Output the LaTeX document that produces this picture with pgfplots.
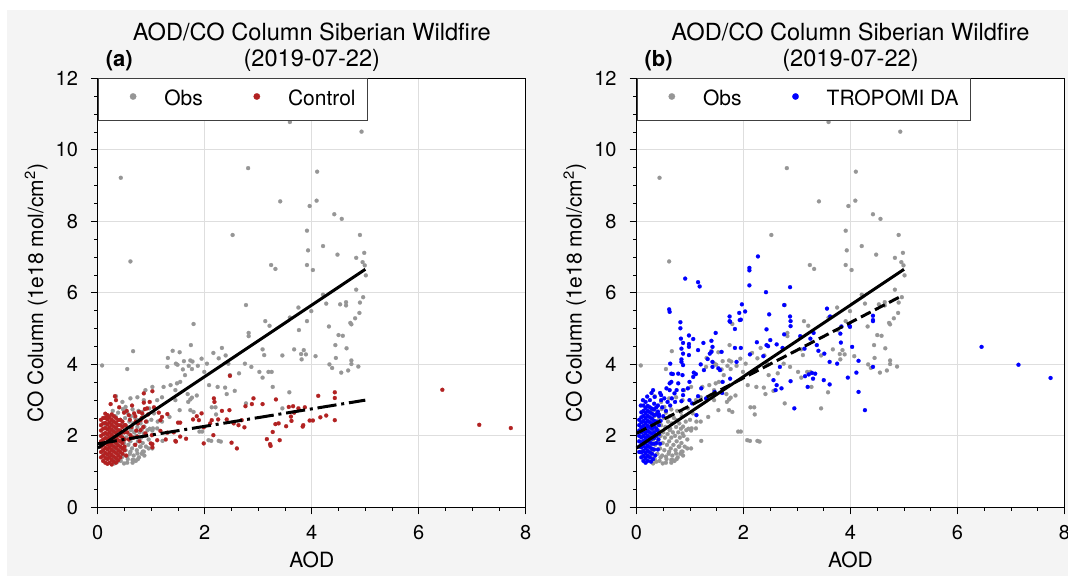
\documentclass[border=0pt]{standalone}
\usepackage{fontspec}
\setmainfont{TeX Gyre Heros}
\usepackage{pgfplots}
\usepackage{pgfplotstable}
\pgfplotsset{compat=1.18}
\definecolor{obsgray}{RGB}{150,150,150}
\definecolor{ctlred}{RGB}{178,34,34}
\definecolor{dablue}{RGB}{0,0,255}
\definecolor{bggray}{RGB}{244,244,244}
\definecolor{gridgray}{RGB}{222,222,222}

\pgfplotstableread{
x y
4.93 10.51
0.43 9.22
2.81 9.49
4.10 9.39
3.41 8.56
4.09 8.58
3.96 8.43
4.42 8.20
4.56 8.07
2.52 7.62
3.91 7.74
4.90 7.62
3.93 7.19
4.21 7.31
4.98 7.12
4.48 7.07
4.83 6.98
0.61 6.88
4.95 6.86
4.99 6.77
3.24 6.78
3.32 6.67
3.91 6.78
4.02 6.64
5.01 6.49
4.83 6.09
4.96 5.88
4.21 5.95
4.27 5.70
4.53 5.68
4.64 5.74
4.64 5.65
4.90 5.73
4.89 5.44
4.81 5.29
4.72 5.16
4.74 5.12
3.75 5.59
3.99 5.49
3.91 5.21
4.32 5.06
2.77 5.66
1.79 5.13
3.13 5.21
3.21 5.08
3.59 5.31
3.76 4.96
3.59 10.78
3.06 11.90
2.82 4.88
2.82 4.79
4.50 4.82
4.58 4.80
4.44 4.54
4.65 4.45
4.45 4.18
4.74 4.11
4.74 4.01
4.87 3.94
4.33 4.00
4.38 3.90
4.55 3.77
4.68 3.83
3.81 4.14
3.85 4.40
3.89 4.28
3.80 4.29
3.67 4.42
4.07 4.23
3.45 4.25
3.08 4.42
2.16 4.32
2.32 4.46
2.39 4.25
1.74 4.54
0.66 4.37
0.55 3.87
0.08 3.97
1.31 4.18
1.53 4.34
1.40 4.38
1.46 4.02
1.30 3.93
1.49 3.99
1.61 4.09
1.73 4.11
1.77 4.08
1.70 3.96
1.87 3.96
1.59 3.86
1.76 3.87
1.94 4.16
2.04 4.02
1.99 3.79
2.08 3.42
2.26 4.17
2.44 4.02
2.47 3.70
2.24 3.37
2.38 3.35
2.41 3.17
2.56 3.26
2.64 3.75
2.75 4.02
2.87 3.93
3.02 3.79
3.08 3.63
3.19 3.79
3.25 3.79
3.27 3.37
3.58 3.22
3.11 4.26
2.77 2.91
3.45 2.77
1.53 2.72
1.73 2.72
1.76 3.07
1.85 3.13
1.69 2.95
1.79 2.67
1.95 2.12
2.12 1.86
2.30 1.84
2.13 2.80
2.20 2.80
2.21 2.60
1.34 2.53
1.20 2.40
1.11 2.21
1.02 2.15
1.20 3.08
1.23 3.37
1.36 3.42
1.45 3.28
1.48 3.47
1.54 3.51
1.63 3.70
1.68 3.17
1.73 3.02
1.45 3.00
1.02 3.37
0.86 3.00
0.74 3.08
0.61 3.05
0.46 2.95
0.34 3.11
0.52 2.81
0.65 2.74
0.83 2.67
0.96 2.77
1.05 2.63
1.11 3.00
0.89 3.28
0.61 1.56
0.68 1.32
0.49 1.23
0.37 1.28
0.74 1.51
0.80 1.70
0.86 2.07
1.02 1.65
0.86 1.56
0.55 1.42
0.30 1.37
0.93 2.16
1.03 2.21
1.12 2.40
0.84 1.56
0.95 1.65
1.21 1.86
0.87 2.26
0.75 2.44
0.62 2.16
0.65 1.33
0.31 1.23
1.90 2.12
2.07 1.88
2.26 1.86
0.10 1.55
0.12 1.80
0.14 2.05
0.15 2.30
0.16 1.40
0.18 1.65
0.20 1.95
0.20 2.55
0.22 2.20
0.24 1.45
0.25 1.75
0.26 2.05
0.27 2.40
0.28 2.70
0.30 1.60
0.31 1.90
0.32 2.15
0.33 2.55
0.34 1.35
0.35 1.75
0.36 2.30
0.37 2.00
0.38 2.65
0.39 1.50
0.40 1.85
0.41 2.15
0.42 2.45
0.43 1.30
0.44 1.65
0.45 2.00
0.46 2.30
0.47 2.75
0.48 1.45
0.49 1.80
0.50 2.10
0.51 2.50
0.52 1.60
0.53 1.95
0.54 2.25
0.55 2.65
0.56 1.35
0.57 1.75
0.58 2.05
0.59 2.40
0.60 1.50
0.61 1.85
0.62 2.55
0.63 2.20
0.64 1.65
0.65 1.95
0.66 2.35
0.67 1.45
0.68 2.10
0.69 1.75
0.70 2.50
0.71 1.30
0.72 2.00
0.73 1.60
0.74 2.25
0.75 1.85
0.76 2.70
0.77 1.40
0.78 2.10
0.79 1.70
0.80 2.35
0.81 1.95
0.82 1.50
0.83 2.20
0.84 1.80
0.85 2.55
0.87 1.45
0.88 2.00
0.90 1.70
0.92 2.40
0.95 1.90
0.97 2.20
1.00 2.45
0.55 1.25
0.45 1.40
0.65 1.25
0.75 1.35
}\obsdata

\pgfplotstableread{
x y
6.44 3.29
7.13 2.31
7.72 2.22
2.47 3.68
2.17 3.05
2.18 2.95
2.91 3.05
2.88 2.89
2.76 2.83
3.08 2.89
3.33 3.02
3.57 2.81
3.65 2.83
3.75 2.77
3.87 2.80
4.12 3.12
4.43 3.22
4.43 3.06
4.27 2.57
4.16 2.52
4.02 2.43
3.96 2.43
3.84 2.30
3.83 2.26
3.62 2.42
3.52 2.27
3.38 2.35
3.32 2.33
3.27 2.11
3.40 1.88
3.16 1.91
3.22 1.77
3.23 1.72
4.43 2.44
3.67 2.65
3.61 2.54
2.60 1.65
2.50 1.81
2.74 2.24
2.63 2.30
2.69 2.44
2.54 2.35
2.41 2.46
2.32 2.70
2.46 2.72
2.25 2.46
2.13 2.44
2.10 2.35
2.16 2.02
1.98 1.79
1.98 2.24
1.89 2.44
1.85 2.55
1.94 2.63
1.78 2.46
1.65 1.92
1.54 1.98
1.46 1.84
1.45 1.86
1.50 2.37
1.54 2.37
1.42 2.10
1.30 2.09
1.27 1.90
1.17 2.14
1.11 1.88
1.02 1.77
1.01 2.02
1.17 2.44
1.20 2.53
1.30 2.61
1.14 2.65
1.05 2.80
1.02 3.25
0.86 3.19
0.86 2.93
0.92 2.77
0.83 2.63
0.77 2.67
0.68 2.63
0.58 2.58
0.49 2.65
0.32 3.11
0.34 3.00
0.24 2.89
0.40 2.80
0.80 2.44
0.71 2.40
0.80 2.16
0.89 2.07
0.99 1.79
1.02 1.68
0.74 1.98
0.61 2.02
0.52 2.30
0.55 2.10
0.58 1.90
0.60 2.45
0.63 2.25
0.66 1.95
0.70 2.55
0.72 2.15
0.75 2.35
0.78 1.85
0.82 2.50
0.85 2.25
0.88 2.75
0.90 2.40
0.94 2.60
0.97 2.95
0.54 2.70
0.64 2.85
0.70 1.75
0.50 1.60
0.53 1.45
0.06 1.40
0.06 1.55
0.06 1.70
0.06 1.85
0.06 2.00
0.06 2.15
0.06 2.30
0.06 2.45
0.10 1.30
0.10 1.45
0.10 1.60
0.10 1.75
0.10 1.90
0.10 2.05
0.10 2.20
0.10 2.35
0.10 2.50
0.14 1.25
0.14 1.38
0.14 1.52
0.14 1.66
0.14 1.80
0.14 1.94
0.14 2.08
0.14 2.22
0.14 2.36
0.14 2.50
0.14 2.62
0.18 1.22
0.18 1.35
0.18 1.48
0.18 1.62
0.18 1.76
0.18 1.90
0.18 2.04
0.18 2.18
0.18 2.32
0.18 2.46
0.18 2.58
0.22 1.25
0.22 1.40
0.22 1.54
0.22 1.68
0.22 1.82
0.22 1.96
0.22 2.10
0.22 2.24
0.22 2.38
0.22 2.52
0.26 1.20
0.26 1.33
0.26 1.47
0.26 1.61
0.26 1.75
0.26 1.89
0.26 2.03
0.26 2.17
0.26 2.31
0.26 2.45
0.26 2.60
0.30 1.28
0.30 1.42
0.30 1.56
0.30 1.70
0.30 1.84
0.30 1.98
0.30 2.12
0.30 2.26
0.30 2.40
0.30 2.55
0.34 1.25
0.34 1.38
0.34 1.52
0.34 1.66
0.34 1.80
0.34 1.94
0.34 2.08
0.34 2.22
0.34 2.36
0.34 2.50
0.38 1.32
0.38 1.46
0.38 1.60
0.38 1.74
0.38 1.88
0.38 2.02
0.38 2.16
0.38 2.30
0.38 2.44
0.42 1.40
0.42 1.55
0.42 1.70
0.42 1.85
0.42 2.00
0.42 2.15
0.42 2.30
0.42 2.45
0.46 1.50
0.46 1.65
0.46 1.80
0.46 1.95
0.46 2.10
0.46 2.25
0.46 2.40
0.50 1.70
0.50 1.90
0.50 2.10
0.50 2.30
}\ctldata

\pgfplotstableread{
x y
6.45 4.49
7.14 3.99
7.74 3.62
0.91 6.40
1.15 6.30
1.18 6.18
0.61 5.54
0.62 5.47
0.82 5.18
0.82 5.01
2.11 6.70
2.11 6.63
2.27 7.02
2.11 6.21
2.87 6.16
2.42 6.02
2.76 5.66
1.97 5.68
2.03 5.48
1.92 5.44
1.74 5.34
1.74 5.21
1.95 5.25
2.48 5.40
2.87 5.34
2.88 5.21
2.88 5.07
1.84 4.99
2.43 4.98
3.56 5.56
3.62 5.34
4.42 5.36
4.42 5.21
3.83 5.06
3.99 5.05
0.83 4.72
0.87 4.60
0.98 4.81
1.06 4.71
0.98 4.57
0.98 4.49
0.84 4.44
0.87 4.30
0.98 4.26
0.84 4.14
0.84 4.07
0.87 3.98
0.63 4.02
0.65 3.74
0.68 3.73
0.78 3.74
0.62 3.47
0.65 3.51
0.78 3.47
0.86 3.70
1.07 3.77
1.11 3.73
0.99 3.51
1.06 3.65
0.96 3.33
0.87 3.28
0.75 3.28
0.87 3.14
0.84 2.97
1.12 2.58
1.15 3.11
1.21 3.33
0.99 3.00
1.04 2.91
1.26 3.84
1.42 3.93
1.42 4.07
1.40 4.35
1.42 4.49
1.37 4.30
1.48 4.88
1.40 4.66
1.59 4.35
1.53 3.89
1.56 3.84
1.61 3.51
1.46 3.23
1.75 5.19
1.84 4.46
1.87 4.07
1.95 4.46
1.93 5.24
2.12 4.28
2.25 4.62
2.37 4.23
2.43 4.54
2.46 4.51
2.50 4.68
2.62 4.56
2.73 4.46
2.76 4.84
2.68 3.93
2.56 3.56
2.62 3.42
2.60 3.28
2.71 3.33
2.88 3.53
2.95 2.77
3.06 4.79
3.14 4.44
3.25 4.72
3.31 4.88
3.37 4.54
3.40 4.38
3.51 4.30
3.15 3.67
3.22 3.72
3.28 3.76
3.34 3.74
3.30 3.60
3.20 3.37
3.50 3.56
3.61 3.44
3.61 4.07
3.75 4.02
3.82 4.61
3.81 4.86
3.98 5.08
4.03 4.49
4.15 4.10
4.11 3.77
3.95 3.63
4.15 3.23
4.27 2.72
4.42 5.24
4.42 3.93
1.30 3.05
1.60 3.20
1.75 3.60
1.25 4.60
1.33 4.15
1.20 4.00
1.15 4.40
0.31 3.28
0.28 3.20
0.34 3.09
0.46 3.14
0.46 3.00
0.56 3.33
0.62 3.28
0.71 3.19
0.42 2.60
0.48 2.80
0.50 2.55
0.52 3.05
0.55 2.70
0.58 2.95
0.63 2.85
0.66 3.05
0.72 2.95
0.44 3.20
0.40 2.85
0.20 3.10
0.12 3.00
0.08 2.85
0.05 1.55
0.05 1.70
0.05 1.85
0.05 2.00
0.05 2.15
0.05 2.30
0.05 2.45
0.09 1.40
0.09 1.54
0.09 1.68
0.09 1.82
0.09 1.96
0.09 2.10
0.09 2.24
0.09 2.38
0.09 2.52
0.09 2.66
0.13 1.30
0.13 1.44
0.13 1.58
0.13 1.72
0.13 1.86
0.13 2.00
0.13 2.14
0.13 2.28
0.13 2.42
0.13 2.56
0.13 2.70
0.13 2.85
0.17 1.25
0.17 1.38
0.17 1.52
0.17 1.66
0.17 1.80
0.17 1.94
0.17 2.08
0.17 2.22
0.17 2.36
0.17 2.50
0.17 2.64
0.17 2.78
0.17 2.95
0.21 1.30
0.21 1.44
0.21 1.58
0.21 1.72
0.21 1.86
0.21 2.00
0.21 2.14
0.21 2.28
0.21 2.42
0.21 2.56
0.21 2.70
0.21 2.84
0.25 1.40
0.25 1.54
0.25 1.68
0.25 1.82
0.25 1.96
0.25 2.10
0.25 2.24
0.25 2.38
0.25 2.52
0.25 2.66
0.25 2.80
0.25 3.00
0.29 1.50
0.29 1.64
0.29 1.78
0.29 1.92
0.29 2.06
0.29 2.20
0.29 2.34
0.29 2.48
0.29 2.62
0.29 2.76
0.33 1.62
0.33 1.78
0.33 1.94
0.33 2.10
0.33 2.26
0.33 2.42
0.33 2.58
0.33 2.74
0.33 2.90
0.37 1.80
0.37 2.00
0.37 2.20
0.37 2.40
0.37 2.60
0.37 2.80
0.42 2.05
0.42 2.30
0.42 2.55
0.40 1.62
0.41 1.90
0.39 2.15
0.44 1.78
0.45 2.42
0.40 2.68
0.35 1.45
0.31 1.35
0.27 1.28
}\dadata

\pgfplotsset{
  myaxis/.style={
    scale only axis, width=214pt, height=214.5pt,
    xmin=0, xmax=8, ymin=0, ymax=12,
    xtick={0,2,4,6,8}, ytick={0,2,4,6,8,10,12},
    minor x tick num=3, minor y tick num=3,
    xtick pos=left, ytick pos=left,
    tick align=outside, major tick length=3.5pt, minor tick length=1.75pt,
    every tick/.style={black, line width=0.5pt},
    grid=major, major grid style={gridgray, line width=0.5pt},
    axis line style={line width=0.6pt},
    axis background/.style={fill=white},
    /pgf/number format/assume math mode=true,
    tick label style={font=\fontsize{10}{12}\selectfont},
    xticklabel style={anchor=base, inner sep=0pt, yshift=-12.8pt},
    yticklabel style={anchor=east, inner sep=0pt, xshift=-6.25pt},
    label style={font=\fontsize{10.5}{12}\selectfont},
    xlabel={AOD},
    ylabel={CO Column (1e18 mol/cm\textsuperscript{2})},
    xlabel style={at={(axis description cs:0.5,0)}, anchor=base, yshift=-30pt},
    ylabel style={at={(axis description cs:-0.128,0.5)}, anchor=base},
    clip=false,
    clip marker paths=true,
    legend columns=2,
    legend cell align=left,
    legend style={at={(0,1)}, anchor=north west, draw=black!75, line width=0.5pt,
      fill=white, inner xsep=6pt, inner ysep=5.6pt,
      font=\fontsize{10.5}{12}\selectfont,
      nodes={inner sep=0pt, text height=7.6pt, text depth=2.2pt},
      /tikz/every even column/.append style={column sep=15.6pt}},
    legend image code/.code={\path[draw=none, fill=none] (-11.4pt,0pt) -- (15.6pt,0pt);
      \draw[##1, only marks, mark size=1.6pt] plot coordinates {(0pt,1.7pt)};},
  },
  pts/.style={only marks, mark=*, mark size=1pt, color=#1, mark options={line width=0.1pt}},
}

\begin{document}
\begin{tikzpicture}
\useasboundingbox (0,0) rectangle (534pt,288pt);
\clip (0,0) rectangle (534pt,288pt);
\fill[white] (0,0) rectangle (534pt,288pt);
\fill[bggray] (3.5pt,0) rectangle (534pt,283pt);

\begin{axis}[myaxis, at={(48.9pt,34.3pt)}, anchor=south west]
\addplot[pts=obsgray] table {\obsdata};
\addlegendentry{Obs}
\addplot[pts=ctlred] table {\ctldata};
\addlegendentry{Control}
\addplot[black, line width=1.5pt, forget plot] coordinates {(0,1.66) (5,6.66)};
\addplot[black, line width=1.5pt, dash pattern=on 9.6pt off 2.4pt on 1.5pt off 2.4pt, forget plot] coordinates {(0,1.78) (5,3.0)};
\node[anchor=base, yshift=18.8pt, font=\fontsize{11.8}{14}\selectfont] at (rel axis cs:0.5,1) {AOD/CO Column Siberian Wildfire};
\node[anchor=base, yshift=5.8pt, font=\fontsize{11.8}{14}\selectfont] at (rel axis cs:0.5,1) {(2019-07-22)};
\node[anchor=base west, yshift=5.8pt, xshift=0.5pt, font=\fontsize{11}{13}\selectfont\bfseries] at (rel axis cs:0,1) {(a)};
\end{axis}

\begin{axis}[myaxis, at={(318.25pt,34.3pt)}, anchor=south west]
\addplot[pts=obsgray] table {\obsdata};
\addlegendentry{Obs}
\addplot[pts=dablue] table {\dadata};
\addlegendentry{TROPOMI DA}
\addplot[black, line width=1.5pt, forget plot] coordinates {(0,1.66) (5,6.66)};
\addplot[black, line width=1.5pt, dash pattern=on 5.5pt off 2.4pt, forget plot] coordinates {(0,2.07) (4.95,5.91)};
\node[anchor=base, yshift=18.8pt, font=\fontsize{11.8}{14}\selectfont] at (rel axis cs:0.5,1) {AOD/CO Column Siberian Wildfire};
\node[anchor=base, yshift=5.8pt, font=\fontsize{11.8}{14}\selectfont] at (rel axis cs:0.5,1) {(2019-07-22)};
\node[anchor=base west, yshift=5.8pt, xshift=0.5pt, font=\fontsize{11}{13}\selectfont\bfseries] at (rel axis cs:0,1) {(b)};
\end{axis}
\end{tikzpicture}
\end{document}
